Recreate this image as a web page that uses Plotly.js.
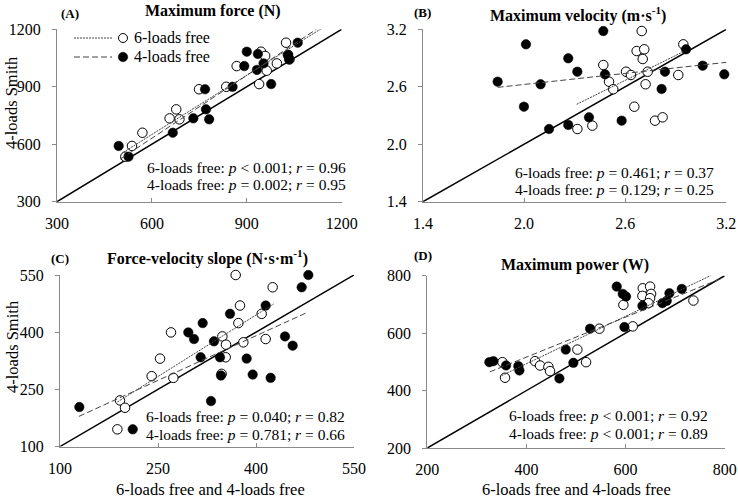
<!DOCTYPE html>
<html><head><meta charset="utf-8">
<script src="https://cdn.plot.ly/plotly-3.0.1.min.js"></script>
<style>html,body{margin:0;padding:0;background:#fff}#chart{width:738px;height:500px}</style>
</head><body><div id="chart"></div>
<script>
// ---------- Panel A: Maximum force (N) ----------
const forceSixX = [516,537,570,656,677,687,749,835,868,939,945,958,963,995,1024,1030,1035];
const forceSixY = [535,591,660,735,782,730,887,900,1008,914,1083,1061,984,1022,1130,1066,1043];
const forceFourX = [495,526,666,731,771,781,768,855,892,900,935,932,953,977,1031,1034,1061];
const forceFourY = [591,535,660,735,782,730,887,900,1008,1083,1071,988,1022,914,1066,1043,1130];
const forceFitSixX = [510,1135], forceFitSixY = [558,1203];
const forceFitFourX = [500,1120], forceFitFourY = [522,1200];
const forceTicks = [300,600,900,1200];

// ---------- Panel B: Maximum velocity (m·s-1) ----------
const velSixX = [2.698,2.668,2.713,2.704,2.945,2.470,2.605,2.634,2.733,2.504,2.529,2.721,2.915,2.654,2.777,2.822,2.316,2.405];
const velSixY = [3.182,2.973,2.991,2.890,3.043,2.827,2.757,2.723,2.757,2.653,2.574,2.626,2.723,2.392,2.246,2.281,2.159,2.194];
const velFourX = [1.843,2.011,2.470,2.262,2.316,2.098,1.999,2.480,2.148,2.262,2.385,2.579,2.836,2.816,2.961,3.060,3.188];
const velFourY = [2.653,3.043,3.182,2.897,2.757,2.626,2.392,2.730,2.159,2.201,2.281,2.246,2.757,2.577,2.991,2.820,2.730];
const velFitSixX = [2.312,2.945], velFitSixY = [2.417,2.966];
const velFitFourX = [1.843,3.200], velFitFourY = [2.594,2.855];
const velTicks = [1.4,2.0,2.6,3.2];

// ---------- Panel C: Force-velocity slope (N·s·m-1) ----------
const slopeSixX = [368.9,425.5,375.5,408.7,373.0,269.9,348.5,354.1,380.6,414.8,253.1,353.6,240.3,273.5,347.4,191.8,199.5,187.8];
const slopeSixY = [550.0,517.8,469.9,448.1,423.8,399.4,388.9,367.2,373.3,382.0,330.6,334.1,284.5,280.1,290.6,220.9,201.7,145.0];
const slopeFourX = [129.6,296.4,305.1,318.4,315.3,335.7,344.9,346.4,331.1,360.2,385.7,394.9,414.8,422.4,444.4,456.1,469.9,480.1,211.3];
const slopeFourY = [203.5,399.4,382.0,423.8,334.1,375.9,334.1,286.2,219.2,448.1,330.6,288.8,469.9,280.1,388.9,364.6,517.8,550.0,145.0];
const slopeFitSixX = [188,427], slopeFitSixY = [217,474];
const slopeFitFourX = [129,480], slopeFitFourY = [179,453];
const slopeTicks = [100,250,400,550];

// ---------- Panel D: Maximum power (W) ----------
const powSixX = [351.5,356.8,417.4,427.5,444.3,447.6,502.8,520.3,547.2,614.5,595.6,634.7,649.5,634.0,651.5,649.5,646.1,736.9];
const powSixY = [498.9,444.7,502.4,487.3,482.7,467.7,542.7,498.9,615.4,623.5,698.5,756.2,762.0,729.7,736.6,721.6,704.3,713.5];
const powFourX = [325.2,333.3,358.9,383.7,385.8,466.5,479.3,494.7,528.4,582.2,594.3,601.0,597.7,634.0,674.3,683.1,688.5,713.4];
const powFourY = [498.9,502.4,487.3,485.0,470.0,442.3,542.7,496.6,615.4,762.0,736.6,727.4,621.2,695.0,704.3,712.4,738.9,753.9];
const powFitSixX = [350,776], powFitSixY = [452,804];
const powFitFourX = [326,793], powFitFourY = [465,790];
const powTicks = [200,400,600,800];

const W = 738, H = 500;
const serif = 'Liberation Serif';
const px = v => v / W, py = v => 1 - v / H;

const panels = [
  {sx:forceSixX, sy:forceSixY, fx:forceFourX, fy:forceFourY, ls:[forceFitSixX,forceFitSixY], lf:[forceFitFourX,forceFitFourY], ticks:forceTicks, fmt:'', dom:[[57,341.7],[29.3,201.7]]},
  {sx:velSixX, sy:velSixY, fx:velFourX, fy:velFourY, ls:[velFitSixX,velFitSixY], lf:[velFitFourX,velFitFourY], ticks:velTicks, fmt:'.1f', dom:[[423,726.3],[29.3,201.7]]},
  {sx:slopeSixX, sy:slopeSixY, fx:slopeFourX, fy:slopeFourY, ls:[slopeFitSixX,slopeFitSixY], lf:[slopeFitFourX,slopeFitFourY], ticks:slopeTicks, fmt:'', dom:[[60,354],[275,446.5]]},
  {sx:powSixX, sy:powSixY, fx:powFourX, fy:powFourY, ls:[powFitSixX,powFitSixY], lf:[powFitFourX,powFitFourY], ticks:powTicks, fmt:'', dom:[[427.3,724.7],[275.7,448]]}
];

const traces = [];
const layout = {
  width: W, height: H, margin:{l:0,r:0,t:0,b:0}, showlegend:false,
  paper_bgcolor:'#fff', plot_bgcolor:'rgba(0,0,0,0)',
  font:{family:serif, color:'#000'}, annotations:[], shapes:[]
};

panels.forEach((p, i) => {
  const n = i + 1;
  const xa = 'x' + (n === 1 ? '' : n), ya = 'y' + (n === 1 ? '' : n);
  const lo = p.ticks[0], hi = p.ticks[p.ticks.length - 1];
  traces.push({x:[lo,hi], y:[lo,hi], xaxis:xa, yaxis:ya, mode:'lines', line:{color:'#000', width:1.5}, hoverinfo:'skip'});
  traces.push({x:p.sx, y:p.sy, xaxis:xa, yaxis:ya, mode:'markers', cliponaxis:false,
    marker:{symbol:'circle', size:9.5, color:'#fff', line:{color:'#000', width:1}}});
  traces.push({x:p.fx, y:p.fy, xaxis:xa, yaxis:ya, mode:'markers', cliponaxis:false,
    marker:{symbol:'circle', size:9.5, color:'#000', line:{color:'#000', width:0.5}}});
  traces.push({x:p.ls[0], y:p.ls[1], xaxis:xa, yaxis:ya, mode:'lines', cliponaxis:false, line:{color:'#444', width:1, dash:'2px,1px'}});
  traces.push({x:p.lf[0], y:p.lf[1], xaxis:xa, yaxis:ya, mode:'lines', cliponaxis:false, line:{color:'#444', width:1, dash:'6px,3px'}});

  const axCommon = {
    range:[lo,hi], tickvals:p.ticks, tickformat:p.fmt, showgrid:false, zeroline:false,
    showline:true, linecolor:'#8a8a8a', linewidth:1, ticklen:4, tickcolor:'#8a8a8a', tickwidth:1,
    tickfont:{family:serif, size:16, color:'#000'}, fixedrange:true
  };
  layout['xaxis' + (n === 1 ? '' : n)] = Object.assign({}, axCommon, {
    domain:[px(p.dom[0][0]), px(p.dom[0][1])], anchor:ya, ticks:'inside', ticklabelstandoff:7});
  layout['yaxis' + (n === 1 ? '' : n)] = Object.assign({}, axCommon, {
    domain:[py(p.dom[1][1]), py(p.dom[1][0])], anchor:xa, ticks:'outside', ticklabelstandoff:8});
});

const ann = (text, x, y, size, opts) => layout.annotations.push(Object.assign({
  text, x:px(x), y:py(y), xref:'paper', yref:'paper', showarrow:false,
  font:{family:serif, size:size, color:'#000'}, xanchor:'center', yanchor:'middle'}, opts || {}));

// panel titles
ann('<b>Maximum force (N)</b>', 213, 11, 16);
ann('<b>Maximum velocity (m·s<sup>-1</sup>)</b>', 578, 14, 16);
ann('<b>Force-velocity slope (N·s·m<sup>-1</sup>)</b>', 207, 257, 16);
ann('<b>Maximum power (W)</b>', 575, 265, 16);
ann('<b>(A)</b>', 70, 13, 13);
ann('<b>(B)</b>', 423, 12, 13);
ann('<b>(C)</b>', 60, 258, 13);
ann('<b>(D)</b>', 423, 255, 13);

// axis titles
ann('4-loads Smith', 12, 103, 16.5, {textangle:-90});
ann('4-loads Smith', 12, 347, 16.5, {textangle:-90});
ann('6-loads free and 4-loads free', 210, 489, 16.5);
ann('6-loads free and 4-loads free', 576, 489, 16.5);

// statistics
const stat = (lines, xr, y1, y2) => {
  ann(lines[0], xr, y1, 15.5, {xanchor:'right'});
  ann(lines[1], xr, y2, 15.5, {xanchor:'right'});
};
stat(['6-loads free: <i>p</i> &lt; 0.001; <i>r</i> = 0.96', '4-loads free: <i>p</i> = 0.002; <i>r</i> = 0.95'], 348, 167, 184);
stat(['6-loads free: <i>p</i> = 0.461; <i>r</i> = 0.37', '4-loads free: <i>p</i> = 0.129; <i>r</i> = 0.25'], 716, 172, 189);
stat(['6-loads free: <i>p</i> = 0.040; <i>r</i> = 0.82', '4-loads free: <i>p</i> = 0.781; <i>r</i> = 0.66'], 347, 416, 434);
stat(['6-loads free: <i>p</i> &lt; 0.001; <i>r</i> = 0.92', '4-loads free: <i>p</i> &lt; 0.001; <i>r</i> = 0.89'], 710, 415, 433);

// legend (panel A)
layout.shapes.push({type:'line', xref:'paper', yref:'paper', x0:px(74), x1:px(112), y0:py(38), y1:py(38), line:{color:'#444', width:1, dash:'2px,1px'}});
layout.shapes.push({type:'line', xref:'paper', yref:'paper', x0:px(74), x1:px(112), y0:py(57), y1:py(57), line:{color:'#444', width:1, dash:'6px,3px'}});
layout.shapes.push({type:'circle', xref:'paper', yref:'paper', xsizemode:'pixel', ysizemode:'pixel', xanchor:px(123), yanchor:py(38), x0:-4.5, x1:4.5, y0:-4.5, y1:4.5, fillcolor:'#fff', line:{color:'#000', width:1}});
layout.shapes.push({type:'circle', xref:'paper', yref:'paper', xsizemode:'pixel', ysizemode:'pixel', xanchor:px(123), yanchor:py(57), x0:-4.75, x1:4.75, y0:-4.75, y1:4.75, fillcolor:'#000', line:{color:'#000', width:0.5}});
ann('6-loads free', 132, 38, 16, {xanchor:'left'});
ann('4-loads free', 132, 57, 16, {xanchor:'left'});

Plotly.newPlot('chart', traces, layout, {staticPlot:true, displayModeBar:false});
</script></body></html>
